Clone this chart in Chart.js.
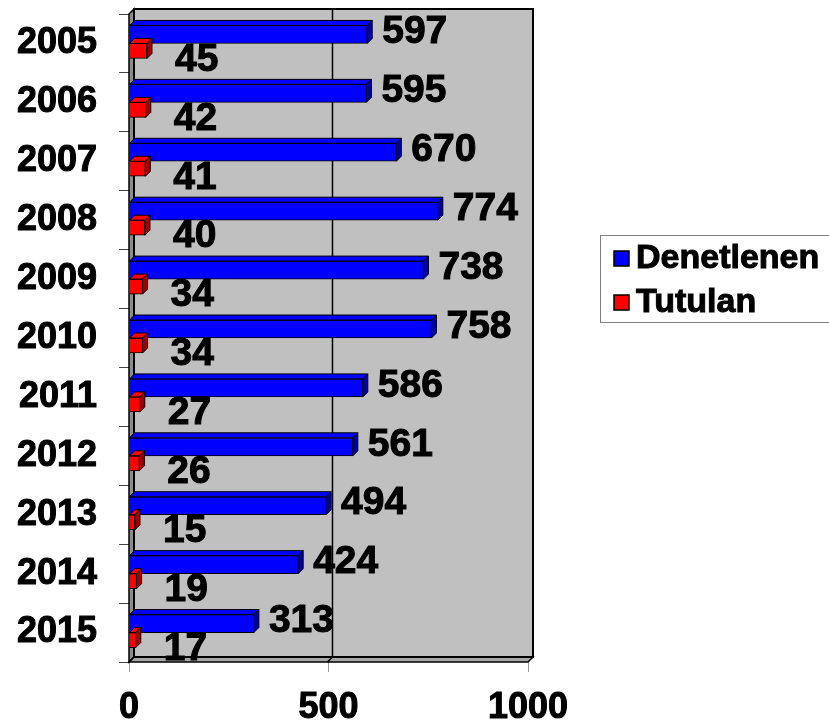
<!DOCTYPE html>
<html><head><meta charset="utf-8">
<script src="https://cdn.jsdelivr.net/npm/chart.js@4"></script>
<style>html,body{margin:0;padding:0;background:#fff}canvas{display:block}</style>
</head><body>
<canvas id="c" width="829" height="727"></canvas>
<script>
const years = ['2005','2006','2007','2008','2009','2010','2011','2012','2013','2014','2015'];
const denetlenen = [597,595,670,774,738,758,586,561,494,424,313];
const tutulan = [45,42,41,40,34,34,27,26,15,19,17];
const seriesNames = ['Denetlenen','Tutulan'];
const seriesColors = ['#0000ff','#ff0000'];
const sideColors = ['#0000a0','#a00000'];
const xMin = 0, xMax = 1000, xStep = 500;

const FONT = '"Liberation Sans", Arial, sans-serif';
const D = 5; // 3D depth

function poly(ctx, pts, fill, stroke, lw){
  ctx.beginPath();
  ctx.moveTo(pts[0][0], pts[0][1]);
  for (let i=1;i<pts.length;i++) ctx.lineTo(pts[i][0], pts[i][1]);
  ctx.closePath();
  if (fill){ctx.fillStyle=fill;ctx.fill();}
  if (stroke){ctx.strokeStyle=stroke;ctx.lineWidth=lw||1;ctx.stroke();}
}
function boldText(ctx, txt, x, y){
  ctx.lineWidth=1; ctx.strokeStyle='#000';
  ctx.strokeText(txt, x, y);
  ctx.fillText(txt, x, y);
}

const scene3d = {
  id:'scene3d',
  beforeDatasetsDraw(chart){
    const ctx=chart.ctx, ca=chart.chartArea;
    const L=ca.left, R=ca.right, T=ca.top, B=ca.bottom;
    ctx.save();
    ctx.fillStyle='#c0c0c0';
    ctx.fillRect(L+D, T-D, R-L, B-T);
    poly(ctx, [[L,T],[L+D,T-D],[L+D,B-D],[L,B]], '#8c8c8c');
    poly(ctx, [[L,B],[L+D,B-D],[R+D,B-D],[R,B]], '#a6a6a6');
    const xs=chart.scales.x;
    for (let v=xMin+xStep; v<xMax; v+=xStep){
      const px=Math.round(xs.getPixelForValue(v))+0.5;
      ctx.beginPath();
      ctx.moveTo(px+D-2, T-D); ctx.lineTo(px+D-2, B-D); ctx.lineTo(px-2, B);
      ctx.strokeStyle='#000'; ctx.lineWidth=1.5; ctx.stroke();
    }
    ctx.lineWidth=2; ctx.strokeStyle='#000';
    ctx.strokeRect(L+D, T-D, R-L, B-T);
    poly(ctx, [[L,T],[L+D,T-D],[L+D,B-D],[L,B]], null, '#000', 1.5);
    poly(ctx, [[L,B],[L+D,B-D],[R+D,B-D],[R,B]], null, '#000', 1.5);
    ctx.restore();
  },
  afterDatasetsDraw(chart){
    const ctx=chart.ctx;
    ctx.save();
    chart.data.datasets.forEach((ds,i)=>{
      const meta=chart.getDatasetMeta(i);
      meta.data.forEach((bar)=>{
        const p=bar.getProps(['x','y','base','height'],true);
        const top=p.y-p.height/2, bot=p.y+p.height/2;
        poly(ctx, [[p.base,top],[p.base+D,top-D],[p.x+D,top-D],[p.x,top]], seriesColors[i], '#000', 1);
        poly(ctx, [[p.x,top],[p.x+D,top-D],[p.x+D,bot-D],[p.x,bot]], sideColors[i], '#000', 1);
      });
    });
    ctx.fillStyle='#000';
    ctx.font='bold 39px '+FONT;
    ctx.textAlign='left'; ctx.textBaseline='middle';
    const offs=[[15,-2],[28,9]];
    chart.data.datasets.forEach((ds,i)=>{
      const meta=chart.getDatasetMeta(i);
      meta.data.forEach((bar,j)=>{
        const p=bar.getProps(['x','y'],true);
        boldText(ctx, String(ds.data[j]), p.x+offs[i][0], p.y+offs[i][1]);
      });
    });
    ctx.restore();
  },
  afterDraw(chart){
    const ctx=chart.ctx;
    ctx.save();
    ctx.strokeStyle='#808080'; ctx.lineWidth=1;
    ctx.strokeRect(600.5, 235.5, 240, 87);
    ctx.font='bold 34px '+FONT;
    ctx.textAlign='left'; ctx.textBaseline='middle';
    chart.data.datasets.forEach((ds,i)=>{
      const cy=258+i*44;
      ctx.fillStyle=ds.backgroundColor;
      ctx.fillRect(614, cy-7, 15, 15);
      ctx.strokeStyle='#000'; ctx.lineWidth=1.5;
      ctx.strokeRect(614, cy-7, 15, 15);
      ctx.fillStyle='#000';
      boldText(ctx, ds.label, 636, cy+1);
    });
    ctx.restore();
  }
};

new Chart(document.getElementById('c'), {
  type:'bar',
  data:{
    labels: years,
    datasets:[
      {label:seriesNames[0], data:denetlenen, backgroundColor:seriesColors[0], borderColor:'#000', borderWidth:1, barThickness:18},
      {label:seriesNames[1], data:tutulan, backgroundColor:seriesColors[1], borderColor:'#000', borderWidth:1, barThickness:15}
    ]
  },
  options:{
    indexAxis:'y',
    responsive:false,
    animation:false,
    devicePixelRatio:1,
    layout:{padding:{top:14,right:301,bottom:0,left:0}},
    plugins:{legend:{display:false}, tooltip:{enabled:false}},
    scales:{
      y:{
        grid:{drawOnChartArea:false, drawTicks:true, tickLength:10, color:'#444', offset:true},
        border:{display:false},
        ticks:{font:{family:FONT,size:36,weight:'bold'}, color:'#000', padding:22, textStrokeColor:'#000', textStrokeWidth:1},
        afterFit(s){ s.width=129; s.paddingTop=0; s.paddingBottom=0; }
      },
      x:{
        min:xMin, max:xMax,
        grid:{drawOnChartArea:false, drawTicks:true, tickLength:10, color:'#999'},
        border:{display:false},
        ticks:{stepSize:xStep, font:{family:FONT,size:36,weight:'bold'}, color:'#000', padding:14, maxRotation:0,
               textStrokeColor:'#000', textStrokeWidth:1, callback:(v)=>String(v)},
        afterFit(s){ s.height=65; s.paddingLeft=0; s.paddingRight=0; }
      }
    }
  },
  plugins:[scene3d]
});
</script>
</body></html>
